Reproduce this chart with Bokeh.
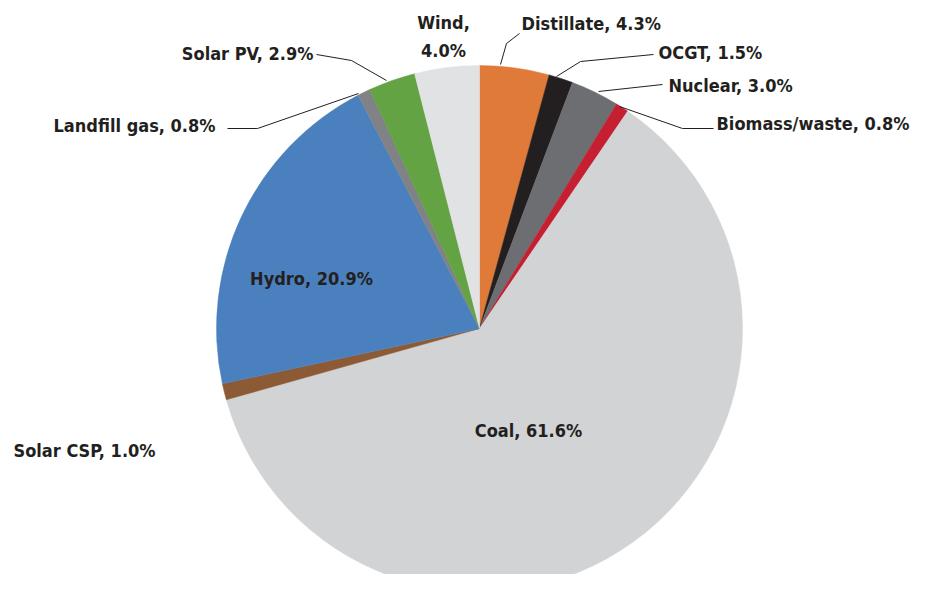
import math
from bokeh.plotting import figure
from bokeh.models import Range1d, ColumnDataSource
from bokeh.core.properties import value
from bokeh.embed import file_html
from bokeh.resources import INLINE

# ---- data (clockwise from 12 o'clock) ----
categories = ["Distillate", "OCGT", "Nuclear", "Biomass/waste", "Coal",
              "Solar CSP", "Hydro", "Landfill gas", "Solar PV", "Wind"]
shares = [4.3, 1.5, 3.0, 0.8, 61.6, 1.0, 20.9, 0.8, 2.9, 4.0]
colors = ["#E07A38", "#231F20", "#6D6E71", "#C61F32", "#D1D3D4",
          "#8C5A34", "#4B80BE", "#808285", "#63A343", "#E1E2E4"]

# ---- layout (picture pixel coords, converted below) ----
W, H = 913, 574
def px(X):
    return X
def py(Y):
    return H - Y

CX, CY, R = 479, 328, 263

# label anchors: (X, Y, align)
label_pos = {
    "Distillate": (521, 23, "left"),
    "OCGT": (658, 52, "left"),
    "Nuclear": (668, 85, "left"),
    "Biomass/waste": (716, 123, "left"),
    "Coal": (528, 430, "center"),
    "Solar CSP": (13, 450, "left"),
    "Hydro": (311, 278, "center"),
    "Landfill gas": (215, 125, "right"),
    "Solar PV": (313, 53, "right"),
    "Wind": (443, 36, "center"),
}
leaders = {
    "Distillate": [(500, 64), (506, 43), (519, 33)],
    "OCGT": [(556, 76), (580, 61), (653, 54)],
    "Nuclear": [(598, 91), (662, 84)],
    "Biomass/waste": [(619, 106), (682, 128), (713, 128)],
    "Landfill gas": [(358, 93), (257, 128), (227, 128)],
    "Solar PV": [(386, 80), (351, 60), (316, 54)],
}

total = sum(shares)
starts, ends = [], []
cum = 0.0
for s in shares:
    a0 = math.pi / 2 - (cum + s) / total * 2 * math.pi
    a1 = math.pi / 2 - cum / total * 2 * math.pi
    starts.append(a0)
    ends.append(a1)
    cum += s

p = figure(width=W, height=H, output_backend="svg", toolbar_location=None,
           x_range=Range1d(0, W), y_range=Range1d(0, H), min_border=0,
           outline_line_color=None, background_fill_color="white",
           border_fill_color="white")
p.axis.visible = False
p.grid.visible = False

src = ColumnDataSource(dict(start=starts, end=ends, color=colors))
p.wedge(x=px(CX), y=py(CY), radius=R, start_angle="start", end_angle="end",
        fill_color="color", line_color="color", line_width=0.5, source=src)

for cat, pts in leaders.items():
    p.line([px(a) for a, b in pts], [py(b) for a, b in pts],
           line_color="#231F20", line_width=1)

FONT = "DejaVu Sans Condensed"
for cat, s in zip(categories, shares):
    X, Y, al = label_pos[cat]
    if cat == "Wind":
        txt = f"{cat},\n{s:.1f}%"
    else:
        txt = f"{cat}, {s:.1f}%"
    p.text(x=[px(X)], y=[py(Y)], text=[txt], text_align=al,
           text_baseline="middle", text_font=value(FONT),
           text_font_style="bold", text_font_size="18px",
           text_color="#231F20", text_line_height=1.35)

open("out.html", "w").write(file_html(p, INLINE))
